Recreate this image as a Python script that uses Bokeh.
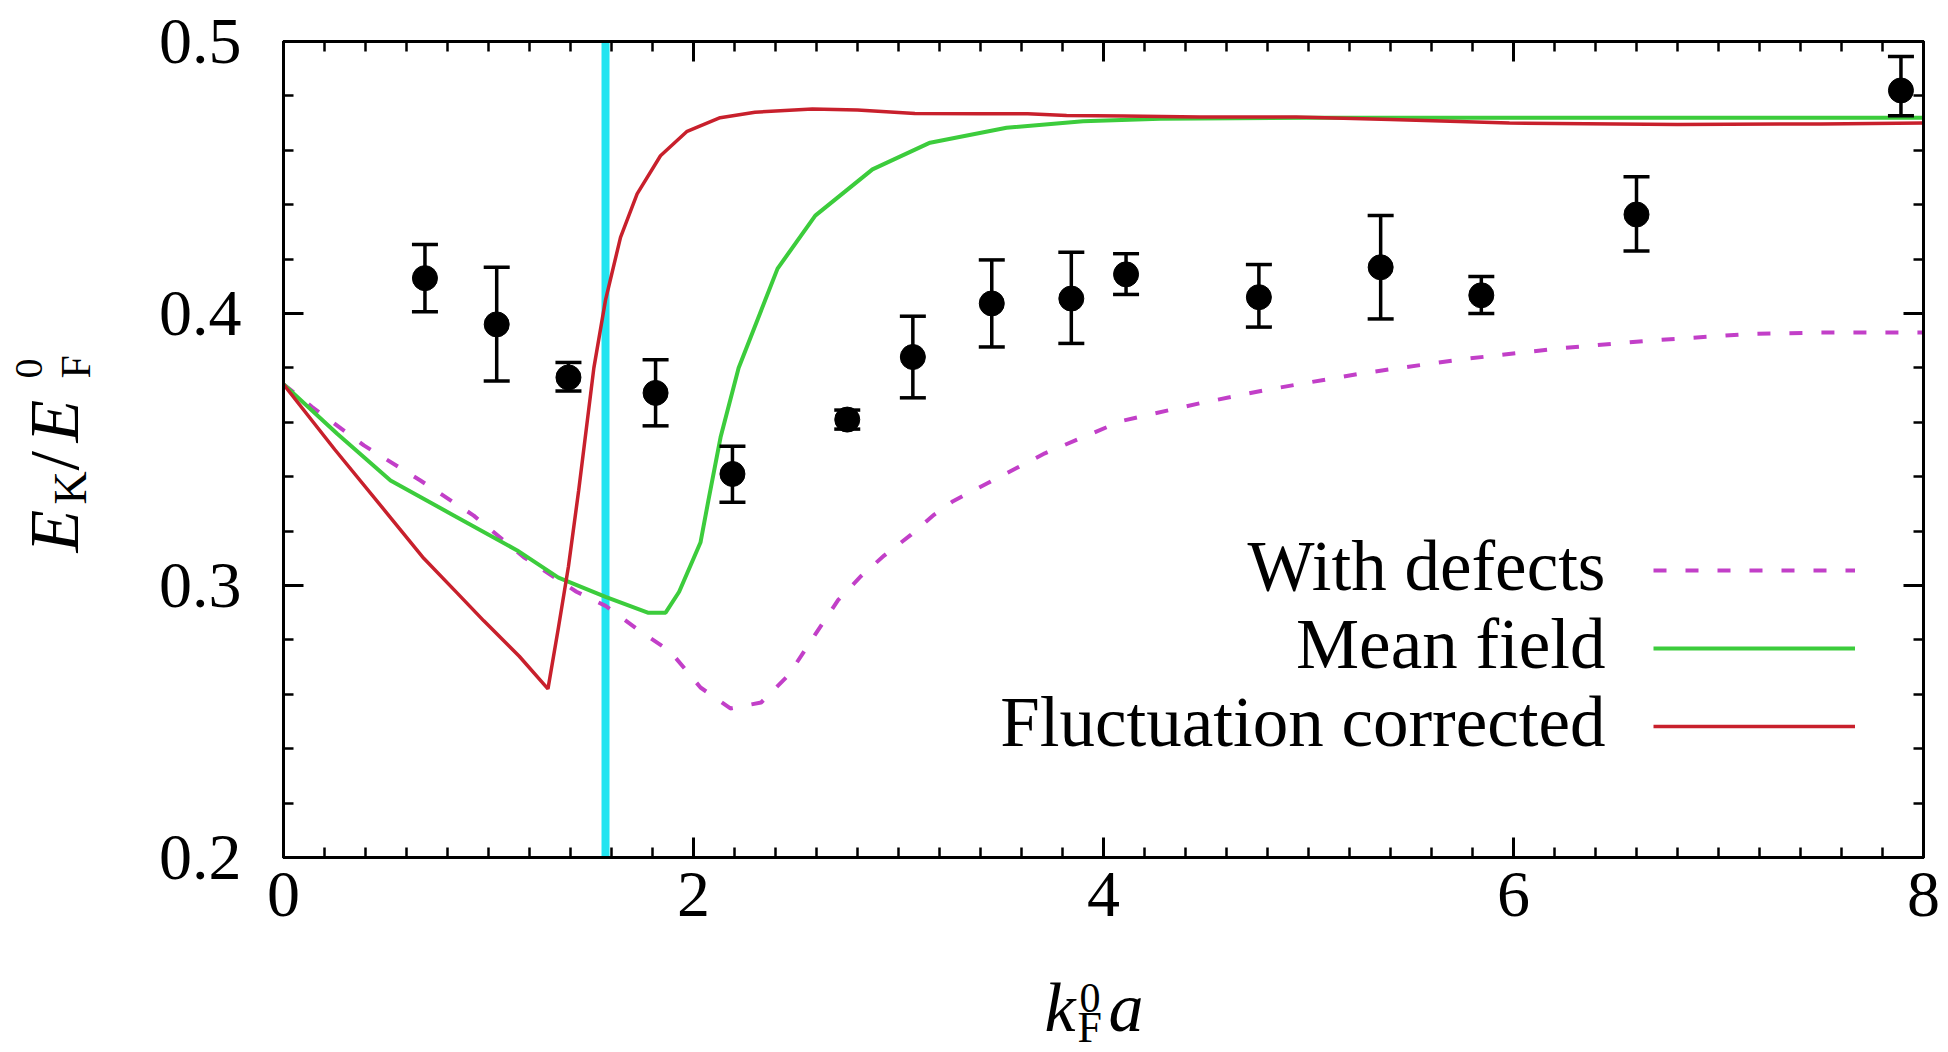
import math
from bokeh.plotting import figure
from bokeh.layouts import row, column
from bokeh.models import (ColumnDataSource, Whisker, TeeHead, Span, Label, Legend, LegendItem,
                          LinearAxis, Range1d, FixedTicker, CustomJSTickFormatter)
from bokeh.core.properties import value
from bokeh.embed import file_html
from bokeh.resources import INLINE

# ---------------- data ----------------
X_TICKS = [0, 2, 4, 6, 8]
Y_TICKS = [0.2, 0.3, 0.4, 0.5]
X_TICK_LABELS = {0: "0", 2: "2", 4: "4", 6: "6", 8: "8"}
Y_TICK_LABELS = {0.2: "0.2", 0.3: "0.3", 0.4: "0.4", 0.5: "0.5"}

exp_x = [0.69, 1.04, 1.39, 1.815, 2.19, 2.75, 3.07, 3.455, 3.843, 4.11, 4.758, 5.352, 5.843, 6.60, 7.89]
exp_y = [0.413, 0.396, 0.3765, 0.3708, 0.341, 0.361, 0.384, 0.4037, 0.4055, 0.4144, 0.406, 0.417, 0.4067, 0.4364, 0.482]
exp_lo = [0.4006, 0.3752, 0.3715, 0.3587, 0.3306, 0.3575, 0.369, 0.3877, 0.389, 0.407, 0.395, 0.398, 0.400, 0.423, 0.4727]
exp_hi = [0.4254, 0.417, 0.382, 0.383, 0.3512, 0.3645, 0.399, 0.4197, 0.4225, 0.422, 0.418, 0.436, 0.4136, 0.4503, 0.4945]

fluct_x = [0, 0.25, 0.5, 0.684, 0.85, 0.977, 1.15, 1.29, 1.34, 1.39, 1.44, 1.514, 1.571, 1.644, 1.725,
           1.839, 1.969, 2.13, 2.3, 2.58, 2.8, 3.08, 3.4, 3.63, 3.82, 4.1, 4.47, 4.94, 5.4, 5.98, 6.8, 7.5, 8.0]
fluct_y = [0.374, 0.350, 0.327, 0.310, 0.297, 0.287, 0.274, 0.262, 0.284, 0.307, 0.335, 0.380, 0.405, 0.428, 0.444,
           0.458, 0.467, 0.472, 0.474, 0.4752, 0.4748, 0.4735, 0.4734, 0.4734, 0.4728, 0.4726, 0.4722, 0.4722,
           0.4713, 0.470, 0.4695, 0.4697, 0.470]

mean_x = [0, 0.262, 0.522, 0.815, 1.14, 1.341, 1.571, 1.777, 1.864, 1.93, 2.034, 2.072, 2.132, 2.22, 2.41,
          2.594, 2.873, 3.154, 3.527, 3.90, 4.276, 5.0, 6.0, 7.0, 8.0]
mean_y = [0.374, 0.3558, 0.3386, 0.3264, 0.3129, 0.3029, 0.2958, 0.290, 0.290, 0.2977, 0.3158, 0.331, 0.3545,
          0.380, 0.4165, 0.436, 0.453, 0.4628, 0.4683, 0.4707, 0.4716, 0.472, 0.472, 0.472, 0.472]

defect_x = [0, 0.14, 0.392, 0.668, 0.928, 1.172, 1.429, 1.571, 1.734, 1.886, 1.973, 2.034, 2.18, 2.33, 2.463,
            2.594, 2.706, 2.818, 2.93, 3.06, 3.173, 3.266, 3.714, 4.088, 4.47, 4.8, 5.26, 5.73, 6.2, 6.66,
            7.15, 7.5, 8.0]
defect_y = [0.374, 0.3656, 0.3515, 0.3386, 0.3257, 0.3104, 0.2977, 0.2925, 0.2835, 0.2758, 0.268, 0.2625,
            0.2548, 0.257, 0.267, 0.282, 0.2947, 0.3035, 0.311, 0.3186, 0.326, 0.331, 0.3486, 0.3605, 0.367,
            0.372, 0.378, 0.383, 0.387, 0.390, 0.3925, 0.393, 0.393]

critical_x = [1.5708]

series_names = ["With defects", "Mean field", "Fluctuation corrected"]

# ---------------- styling / layout ----------------
FONT = "Liberation Serif"
RED = "#c8202c"
GREEN = "#3ccc3c"
MAGENTA = "#c23fc8"
CYAN = "#22e4f0"
MID = 0.3375               # baseline-to-middle distance of the font, in em

W, H = 1948, 1052          # page
LW = 110                   # strip on the left holding the y title
MH = 960                   # height of the main row (x title strip below it)
FL, FR, FT, FB = 283, 1923, 41, 857   # frame on the page

def px2x(px):
    return (px - FL) / (FR - FL) * 8.0
def py2y(py):
    return 0.2 + (FB - py) / (FB - FT) * 0.3

p = figure(width=W - LW, height=MH, x_range=Range1d(0, 8), y_range=Range1d(0.2, 0.5),
           output_backend="svg", toolbar_location=None,
           min_border_left=FL - LW, min_border_right=W - FR, min_border_top=FT, min_border_bottom=MH - FB)
p.xgrid.visible = False
p.ygrid.visible = False
p.outline_line_color = "black"
p.outline_line_width = 3
p.background_fill_color = "white"
p.border_fill_color = "white"

x_minor = [round(0.2 * i, 2) for i in range(41)]
y_minor = [round(0.2 + 0.02 * i, 3) for i in range(16)]

def style_axis(ax, labels):
    ax.axis_line_width = 3
    ax.axis_line_color = "black"
    ax.major_tick_in = 20
    ax.major_tick_out = 0
    ax.minor_tick_in = 10
    ax.minor_tick_out = 0
    ax.major_tick_line_width = 3
    ax.minor_tick_line_width = 2.5
    ax.major_label_text_font = FONT
    ax.major_label_text_font_size = "66px"
    ax.major_label_text_color = "black"
    if not labels:
        ax.formatter = CustomJSTickFormatter(code="return ''")
        ax.major_label_standoff = 0
        ax.major_label_text_font_size = "1px"

p.xaxis.ticker = FixedTicker(ticks=X_TICKS, minor_ticks=x_minor)
p.yaxis.ticker = FixedTicker(ticks=Y_TICKS, minor_ticks=y_minor)
p.xaxis.major_label_overrides = X_TICK_LABELS
p.yaxis.major_label_overrides = Y_TICK_LABELS
style_axis(p.xaxis[0], True)
style_axis(p.yaxis[0], True)
p.xaxis.major_label_standoff = 15
p.yaxis.major_label_standoff = 42

top_ax = LinearAxis(ticker=FixedTicker(ticks=X_TICKS, minor_ticks=x_minor))
style_axis(top_ax, False)
p.add_layout(top_ax, "above")
right_ax = LinearAxis(ticker=FixedTicker(ticks=Y_TICKS, minor_ticks=y_minor))
style_axis(right_ax, False)
p.add_layout(right_ax, "right")

span = Span(location=critical_x[0], dimension="height", line_color=CYAN, line_width=8, level="underlay")
p.add_layout(span)

r_def = p.line(defect_x, defect_y, line_color=MAGENTA, line_width=4, line_dash="13 19")
r_mean = p.line(mean_x, mean_y, line_color=GREEN, line_width=4)
r_fl = p.line(fluct_x, fluct_y, line_color=RED, line_width=3.5)

src = ColumnDataSource(dict(base=exp_x, lower=exp_lo, upper=exp_hi, y=exp_y))
wh = Whisker(base="base", lower="lower", upper="upper", source=src, line_width=3.5, line_color="black",
             upper_head=TeeHead(size=26, line_width=3.5, line_color="black"),
             lower_head=TeeHead(size=26, line_width=3.5, line_color="black"), level="glyph")
p.add_layout(wh)
p.scatter("base", "y", source=src, size=25, color="black")

# legend: key lines from Bokeh's Legend, texts right-aligned to their left
legend = Legend(items=[LegendItem(label=" ", renderers=[r_def]),
                       LegendItem(label=" ", renderers=[r_mean]),
                       LegendItem(label=" ", renderers=[r_fl])],
                location=(1370, 92), padding=0, margin=0, spacing=0,
                glyph_width=202, glyph_height=78, label_height=78, label_width=1, label_standoff=0,
                label_text_font=FONT, label_text_font_size="10px",
                background_fill_alpha=0, border_line_color=None)
p.add_layout(legend)

LEG_SIZE = 71
for name, base in zip(series_names, [589, 667, 745]):
    p.add_layout(Label(x=px2x(1605), y=py2y(base - MID * LEG_SIZE), text=name, text_font=FONT,
                       text_font_size=f"{LEG_SIZE}px", text_color="black",
                       text_align="right", text_baseline="middle"))

# ---------------- axis titles (strips beside the main figure) ----------------
def strip(w, h, y0, y1):
    f = figure(width=w, height=h, x_range=Range1d(0, w), y_range=Range1d(y0, y1),
               output_backend="svg", toolbar_location=None,
               min_border=0, min_border_left=0, min_border_right=0, min_border_top=0, min_border_bottom=0,
               x_axis_type=None, y_axis_type=None, title=None)
    f.outline_line_color = None
    f.background_fill_color = "white"
    f.border_fill_color = "white"
    return f

def put(f, px, ydata, text, size, italic=False, angle=0.0):
    f.text(x=[px], y=[ydata], text=[text], angle=angle, text_font=value(FONT),
           text_font_size=value(f"{size}px"), text_font_style=value("italic" if italic else "normal"),
           text_align=value("left"), text_baseline=value("middle"), text_color="black")

# y title  E_K / E_F^0 (reads upwards). This strip's frame lines up with the main frame
# (page rows FT..FB), so its y range is expressed as H - page_y over that span.
ystrip = strip(LW, MH, H - FB, H - FT)
A = math.pi / 2
def put_y(bx, py, text, size, italic=False):
    put(ystrip, bx - MID * size, H - py, text, size, italic=italic, angle=A)
put_y(78, 552, "E", 70, italic=True)
put_y(86, 504, "K", 46)
put_y(78, 470, "/", 70)
put_y(78, 442, "E", 70, italic=True)
put_y(42, 378, "0", 40)
put_y(90, 378, "F", 42)

# x title  k_F^0 a; by = baseline position on the page
XH = H - MH
xstrip = strip(W, XH, 0, XH)
def put_x(px, by, text, size, italic=False):
    put(xstrip, px, H - (by - MID * size), text, size, italic=italic)
put_x(1044, 1031, "k", 70, italic=True)
put_x(1079, 1012, "0", 42)
put_x(1077, 1042, "F", 44)
put_x(1108, 1031, "a", 70, italic=True)

layout = column(row(ystrip, p), xstrip)
open("out.html", "w").write(file_html(layout, INLINE))
